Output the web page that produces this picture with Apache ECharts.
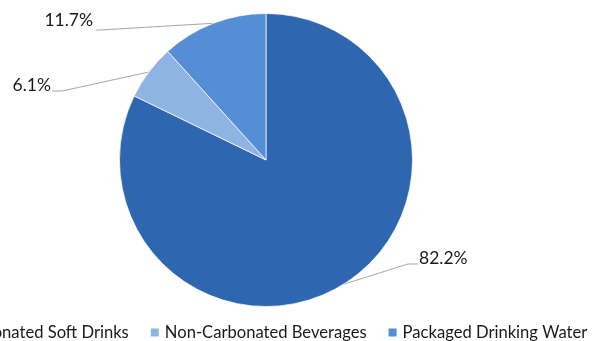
<!DOCTYPE html>
<html>
<head>
<meta charset="utf-8">
<script src="https://cdn.jsdelivr.net/npm/echarts@6/dist/echarts.min.js"></script>
<style>
  html, body { margin: 0; padding: 0; background: #ffffff; }
  #chart { width: 595px; height: 341px; }
</style>
</head>
<body>
<div id="chart"></div>
<script>
const categories = ['Carbonated Soft Drinks', 'Non-Carbonated Beverages', 'Packaged Drinking Water'];
const shares = [82.2, 6.1, 11.7];
const sliceColors = ['#2f66b0', '#8eb4e3', '#558ed5'];

// where each percentage label sits and where its leader line ends (Excel style)
const labelSpots = [
  { x: 419, y: 258, align: 'left', end: [418, 264], elbow: [408, 264] },
  { x: 51, y: 85, align: 'right', end: [52, 91], elbow: [62, 91] },
  { x: 93, y: 20.5, align: 'right', end: [96, 30], elbow: [100, 30] },
];

const FONT = 'Lato';
const chart = echarts.init(document.getElementById('chart'), null, { renderer: 'canvas' });

chart.setOption({
  animation: false,
  legend: {
    data: categories,
    left: -58,
    top: 324,
    padding: 0,
    width: 800,
    itemWidth: 10,
    itemHeight: 10,
    itemGap: 20,
    icon: 'rect',
    textStyle: { fontFamily: FONT, fontSize: 16.6, color: '#1a1a1a' },
  },
  series: [
    {
      type: 'pie',
      center: [266, 160],
      radius: 146.5,
      startAngle: 90,
      clockwise: true,
      itemStyle: { borderColor: '#ffffff', borderWidth: 0.7 },
      label: {
        show: true,
        formatter: p => p.value.toFixed(1) + '%',
        fontFamily: FONT,
        fontSize: 17.5,
        color: '#1a1a1a',
      },
      labelLine: {
        show: true,
        length: 10,
        length2: 10,
        lineStyle: { color: '#a6a6a6', width: 1 },
      },
      labelLayout: params => {
        const spot = labelSpots[params.dataIndex];
        const start = params.labelLinePoints ? params.labelLinePoints[0] : spot.elbow;
        return {
          x: spot.x,
          y: spot.y,
          align: spot.align,
          verticalAlign: 'middle',
          labelLinePoints: [start, spot.elbow, spot.end],
        };
      },
      emphasis: { disabled: true },
      data: categories.map((name, i) => ({
        name,
        value: shares[i],
        itemStyle: { color: sliceColors[i] },
      })),
    },
  ],
});
</script>
</body>
</html>
